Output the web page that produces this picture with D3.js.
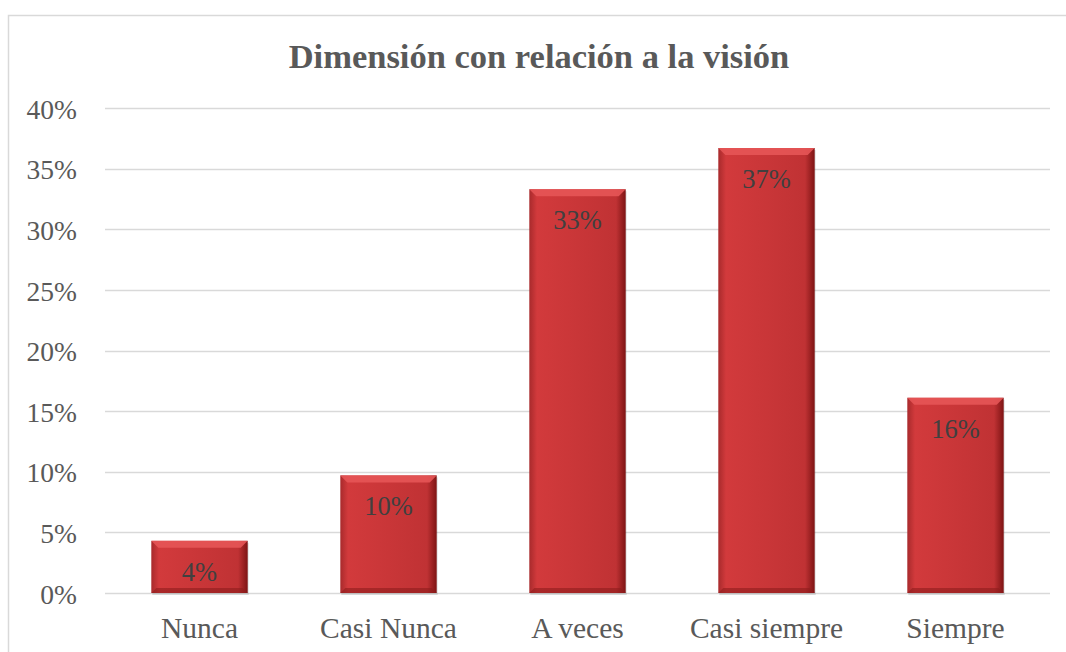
<!DOCTYPE html>
<html lang="es">
<head>
<meta charset="UTF-8" />
<title>Dimensión con relación a la visión</title>
<script src="https://d3js.org/d3.v7.min.js"></script>
<style>
  body { margin: 0; background: #fff; }
  svg { display: block; font-family: "Liberation Serif", "Times New Roman", serif; }
</style>
</head>
<body>
<div id="chart"></div>
<script>
// values
const categories = ["Nunca", "Casi Nunca", "A veces", "Casi siempre", "Siempre"];
const values = [0.043, 0.097, 0.333, 0.367, 0.161];
const tickValues = [0, 0.05, 0.10, 0.15, 0.20, 0.25, 0.30, 0.35, 0.40];

const width = 1066, height = 652;
const margin = { top: 108, right: 16, bottom: 59, left: 105 };

const svg = d3.select("#chart").append("svg")
  .attr("width", width)
  .attr("height", height);

// outer frame (only top and left are visible in the crop)
svg.append("path")
  .attr("d", "M8.5," + height + "V15.5H" + width)
  .attr("fill", "none")
  .attr("stroke", "#d9d9d9")
  .attr("stroke-width", 1.5);

const x = d3.scaleBand()
  .domain(categories)
  .range([margin.left, width - margin.right])
  .paddingInner(0.49)
  .paddingOuter(0.245);

const y = d3.scaleLinear()
  .domain([0, 0.40])
  .range([height - margin.bottom, margin.top]);

// gradient for the bevelled bars
const defs = svg.append("defs");
const g1 = defs.append("linearGradient").attr("id", "barFill")
  .attr("x1", 0).attr("x2", 1).attr("y1", 0).attr("y2", 0);
g1.append("stop").attr("offset", "0%").attr("stop-color", "#a82a2c");
g1.append("stop").attr("offset", "8%").attr("stop-color", "#d23a3c");
g1.append("stop").attr("offset", "50%").attr("stop-color", "#c93638");
g1.append("stop").attr("offset", "90%").attr("stop-color", "#c03234");
g1.append("stop").attr("offset", "100%").attr("stop-color", "#7e1414");

// gridlines
svg.append("g")
  .selectAll("line")
  .data(tickValues)
  .join("line")
  .attr("x1", margin.left)
  .attr("x2", width - margin.right)
  .attr("y1", d => Math.round(y(d)) + 0.5)
  .attr("y2", d => Math.round(y(d)) + 0.5)
  .attr("stroke", "#d9d9d9")
  .attr("stroke-width", 1.3);

// y axis labels
svg.append("g")
  .selectAll("text")
  .data(tickValues)
  .join("text")
  .attr("x", 77)
  .attr("y", d => y(d) + 1)
  .attr("dy", "0.35em")
  .attr("text-anchor", "end")
  .attr("font-size", 27.5)
  .attr("fill", "#595959")
  .text(d3.format(".0%"));

// bars
const bars = svg.append("g")
  .selectAll("g")
  .data(values)
  .join("g")
  .attr("transform", (d, i) => `translate(${x(categories[i])},0)`);

bars.append("rect")
  .attr("x", 1)
  .attr("y", d => y(d) + 2)
  .attr("width", x.bandwidth())
  .attr("height", d => y(0) - y(d))
  .attr("fill", "#000")
  .attr("opacity", 0.12);

bars.append("rect")
  .attr("x", 0)
  .attr("y", d => y(d))
  .attr("width", x.bandwidth())
  .attr("height", d => y(0) - y(d))
  .attr("fill", "url(#barFill)");

// top bevel highlight
bars.append("path")
  .attr("d", d => {
    const w = x.bandwidth(), t = y(d), b = 7;
    return `M0,${t}H${w}L${w - b},${t + b}H${b}Z`;
  })
  .attr("fill", "#e65556")
  .attr("opacity", 0.9);

// bottom bevel shade
bars.append("path")
  .attr("d", d => {
    const w = x.bandwidth(), bt = y(0), b = 5;
    return `M0,${bt}H${w}L${w - b},${bt - b}H${b}Z`;
  })
  .attr("fill", "#8e1c1c")
  .attr("opacity", 0.6);

// data labels
bars.append("text")
  .attr("x", x.bandwidth() / 2)
  .attr("y", d => y(d) + 40)
  .attr("text-anchor", "middle")
  .attr("font-size", 26.5)
  .attr("fill", "#404040")
  .text(d => d3.format(".0%")(d));

// category labels
svg.append("g")
  .selectAll("text")
  .data(categories)
  .join("text")
  .attr("x", d => x(d) + x.bandwidth() / 2)
  .attr("y", 638)
  .attr("text-anchor", "middle")
  .attr("font-size", 29.5)
  .attr("fill", "#595959")
  .text(d => d);

// title
svg.append("text")
  .attr("x", 539)
  .attr("y", 68)
  .attr("text-anchor", "middle")
  .attr("font-size", 34.5)
  .attr("font-weight", "bold")
  .attr("fill", "#595959")
  .text("Dimensión con relación a la visión");
</script>
</body>
</html>
